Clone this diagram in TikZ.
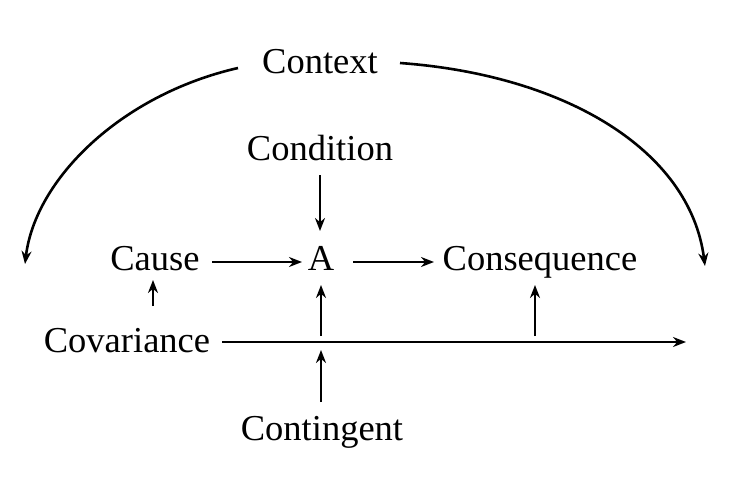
\documentclass[tikz,border=0pt]{standalone}
\usepackage{fontspec}
\setmainfont{Liberation Serif}
\usetikzlibrary{arrows.meta}
\begin{document}
\begin{tikzpicture}[x=1pt,y=-1pt,
  lbl/.style={font=\fontsize{36.5}{40}\selectfont, inner sep=0pt, anchor=base},
  arr/.style={line width=2.6pt, -{Stealth[length=13pt,width=10pt]}}]
\useasboundingbox (0,0) rectangle (736,479);
\fill[white] (0,0) rectangle (736,479);
\node[lbl] (context) at (320,73) {Context};
\node[lbl] (condition) at (320,160) {Condition};
\node[lbl] (cause) at (155,270) {Cause};
\node[lbl] (a) at (321,270) {A};
\node[lbl] (conseq) at (540,270) {Consequence};
\node[lbl] (covar) at (127,352) {Covariance};
\node[lbl] (conting) at (322,440) {Contingent};
% coordinates
\coordinate (cl0) at (238,68);
\coordinate (cl1) at (25,264);
\coordinate (cr0) at (400,63);
\coordinate (cr1) at (705,266);
\coordinate (cond0) at (320,175);
\coordinate (cond1) at (320,231);
\coordinate (ca0) at (212,262);
\coordinate (ca1) at (302,262);
\coordinate (ac0) at (353,262);
\coordinate (ac1) at (434,262);
\coordinate (cv0) at (153,306);
\coordinate (cv1) at (153,280);
\coordinate (h0) at (222,342);
\coordinate (h1) at (686,342);
\coordinate (ua0) at (321,336);
\coordinate (ua1) at (321,285);
\coordinate (uc0) at (535,336);
\coordinate (uc1) at (535,285);
\coordinate (ct0) at (321,402);
\coordinate (ct1) at (321,350);
\draw[arr] (cl0) .. controls (120,95) and (35,180) .. (cl1);
\draw[arr] (cr0) .. controls (565,75) and (690,150) .. (cr1);
\draw[arr] (cond0) -- (cond1);
\draw[arr] (ca0) -- (ca1);
\draw[arr] (ac0) -- (ac1);
\draw[arr] (cv0) -- (cv1);
\draw[arr] (h0) -- (h1);
\draw[arr] (ua0) -- (ua1);
\draw[arr] (uc0) -- (uc1);
\draw[arr] (ct0) -- (ct1);
\end{tikzpicture}
\end{document}
